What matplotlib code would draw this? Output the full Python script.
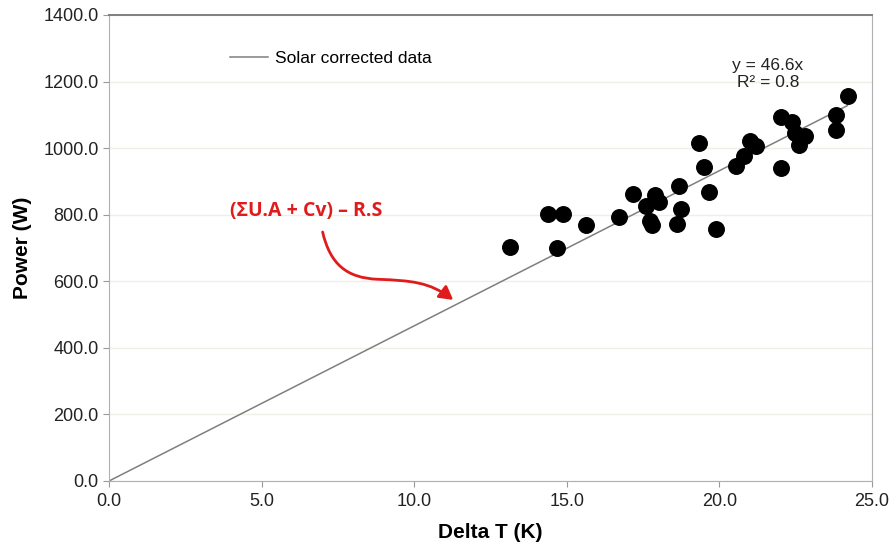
import numpy as np
import matplotlib.pyplot as plt
from matplotlib.path import Path
from matplotlib.patches import FancyArrowPatch

plt.rcParams['font.family'] = ['Liberation Sans', 'DejaVu Sans']

# Data
delta_t = [13.14, 14.38, 14.89, 14.69, 15.63, 16.70, 17.18, 17.60, 17.90, 18.03,
           17.73, 17.78, 18.67, 18.75, 18.62, 19.32, 19.50, 19.65, 19.89, 20.54,
           20.81, 21.00, 21.22, 22.01, 22.03, 22.40, 22.47, 22.81, 22.60, 23.84,
           23.84, 24.21]
power = [702, 802, 802, 699, 768, 792, 862, 826, 860, 838,
         782, 768, 886, 816, 772, 1016, 944, 868, 758, 946,
         976, 1020, 1006, 1094, 940, 1078, 1045, 1036, 1008, 1099,
         1054, 1157]
slope = 46.6
r2 = 0.8
fit_x = [0.0, 24.2]
x_ticks = [0, 5, 10, 15, 20, 25]
y_ticks = [0, 200, 400, 600, 800, 1000, 1200, 1400]

fig = plt.figure(figsize=(8.96, 5.49), dpi=100)
ax = fig.add_axes([0.1217, 0.1239, 0.8513, 0.8488])

ax.scatter(delta_t, power, s=125, color='black', zorder=3)
ax.plot(fit_x, [slope * v for v in fit_x], color='#7f7f7f', lw=1.1,
        label='Solar corrected data', zorder=2)

ax.set_xlim(0, 25)
ax.set_ylim(0, 1400)
ax.set_xticks(x_ticks)
ax.set_yticks(y_ticks)
ax.set_xticklabels([f'{v:.1f}' for v in x_ticks])
ax.set_yticklabels([f'{v:.1f}' for v in y_ticks])
ax.tick_params(labelsize=13, colors='#222222', length=4, color='#999999')
ax.tick_params(axis='x', pad=5)
ax.grid(axis='y', color='#efefe6', lw=1)
ax.set_axisbelow(True)
for s in ax.spines.values():
    s.set_color('#b0b0b0')
ax.spines['top'].set_color('#7f7f7f')
ax.spines['top'].set_linewidth(1.4)

ax.set_xlabel('Delta T (K)', fontsize=15, fontweight='bold', labelpad=9)
ax.set_ylabel('Power (W)', fontsize=15, fontweight='bold', labelpad=8)

ax.legend(loc='center left', bbox_to_anchor=(0.138, 0.906), frameon=False,
          fontsize=12.5, handlelength=2.2, handletextpad=0.4)

ax.text(21.6, 1222, f'y = {slope}x\nR² = {r2}', ha='center', va='center',
        fontsize=12.5, color='#222222', linespacing=1.2)

ax.text(6.45, 811, '(ΣU.A + Cv) – R.S', ha='center', va='center',
        fontsize=14, fontweight='bold', color='#e01b1b',
        family=['Open Sans', 'DejaVu Sans'])

verts = [(7.0, 748), (7.25, 650), (7.8, 610), (8.8, 606),
         (9.9, 602), (10.5, 598), (11.28, 544)]
codes = [Path.MOVETO] + [Path.CURVE4] * 6
arrow = FancyArrowPatch(path=Path(verts, codes), arrowstyle='-|>,head_length=8,head_width=4.5',
                        color='#e01b1b', lw=2)
ax.add_patch(arrow)

plt.savefig('out.png', dpi=100)
